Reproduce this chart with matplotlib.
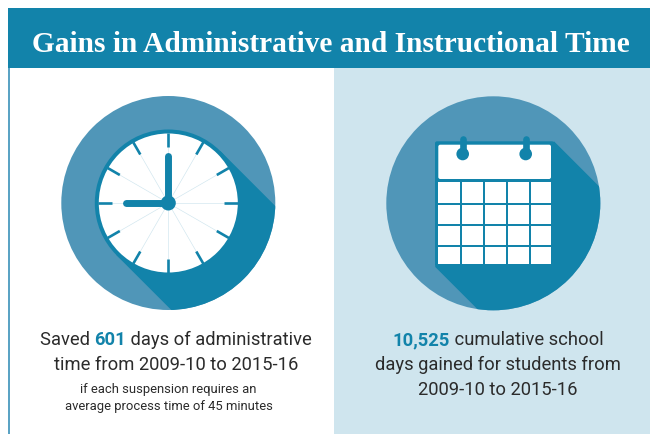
import numpy as np
import matplotlib
matplotlib.use("Agg")
import matplotlib.pyplot as plt
from matplotlib.patches import Circle, Rectangle, Polygon, FancyBboxPatch

TEAL = "#1283aa"
MID = "#5096b8"
PALE = "#cfe5ee"
INK = "#2b2b2b"

title = "Gains in Administrative and Instructional Time"
left_lines = [[("Saved ", False), ("601", True), (" days of administrative", False)],
              [("time from 2009-10 to 2015-16", False)]]
left_note = ["if each suspension requires an", "average process time of 45 minutes"]
right_lines = [[("10,525", True), (" cumulative school", False)],
               [("days gained for students from", False)],
               [("2009-10 to 2015-16", False)]]
clock_hours = list(range(12))
cal_col_edges = [(438.3, 460), (461.7, 483.3), (485.3, 506), (508, 529.3), (531, 551)]
cal_row_edges = [(182.7, 203.7), (205.7, 224.7), (226.7, 245.7), (247.7, 265)]

plt.rcParams["font.family"] = "Roboto"
fig = plt.figure(figsize=(6.5, 4.35), dpi=100)
ax = fig.add_axes([0, 0, 1, 1])
ax.set_xlim(0, 650)
ax.set_ylim(435, 0)
ax.axis("off")

# background panels
ax.add_patch(Rectangle((334, 69), 316, 366, fc=PALE, ec="none"))
ax.add_patch(Rectangle((8, 9), 1.6, 426, fc="#5ba3c4", ec="none"))
ax.add_patch(Rectangle((8, 9), 642, 60, fc=TEAL, ec="none"))
ax.text(331, 52, title, color="white", ha="center", va="baseline",
        family="Liberation Serif", weight="bold", fontsize=21.2)


def badge(cx, cy, p1, p2):
    big = Circle((cx, cy), 107, fc=MID, ec="none")
    ax.add_patch(big)
    # long shadow running down-right, cut off by the big circle
    shadow = Polygon([p1, (p1[0] + 200, p1[1] + 200), (p2[0] + 200, p2[1] + 200), p2],
                     fc=TEAL, ec="none")
    ax.add_patch(shadow)
    shadow.set_clip_path(Circle((cx, cy), 107, transform=ax.transData))


# clock
cx, cy = 168.3, 204
badge(cx, cy, (cx + 52, cy - 52), (cx - 52, cy + 52))
ax.add_patch(Circle((cx, cy), 73.5, fc=TEAL, ec="none"))
ax.add_patch(Circle((cx, cy), 69.5, fc="white", ec="none"))
for h in clock_hours:
    a = np.radians(h * 30)
    dx, dy = np.sin(a), -np.cos(a)
    ax.plot([cx, cx + 56 * dx], [cy, cy + 56 * dy], color="#cfe5ee", lw=0.45)
    ax.plot([cx + 56 * dx, cx + 70 * dx], [cy + 56 * dy, cy + 70 * dy], color=TEAL, lw=1.9,
            solid_capstyle="butt")
ax.plot([cx, cx], [cy, cy - 47], color=TEAL, lw=5, solid_capstyle="round")
ax.plot([cx, cx - 42], [cy, cy], color=TEAL, lw=5, solid_capstyle="round")
ax.add_patch(Circle((cx, cy), 7.5, fc=TEAL, ec="none", zorder=3))

# calendar
cx2, cy2 = 493.3, 204.3
badge(cx2, cy2, (554, 142.3), (435, 267.7))
ax.add_patch(FancyBboxPatch((435, 142.3), 119, 125.4, boxstyle="round,pad=0,rounding_size=2",
                            fc=TEAL, ec="none"))
ax.add_patch(FancyBboxPatch((438.3, 145.7), 112.7, 34.3, boxstyle="round,pad=0,rounding_size=2",
                            fc="white", ec="none"))
for x0, x1 in cal_col_edges:
    for y0, y1 in cal_row_edges:
        ax.add_patch(Rectangle((x0, y0), x1 - x0, y1 - y0, fc="white", ec="none"))
for rx in (462.7, 525.7):
    ax.add_patch(Circle((rx, 155), 6.3, fc=TEAL, ec="none"))
    ax.plot([rx, rx], [155, 140], color=TEAL, lw=4.8, solid_capstyle="round")


def mixed_line(parts, x, y, size):
    # lay the pieces side by side, then shift them so the line is centred on x
    rend = fig.canvas.get_renderer()
    items = []
    for s, strong in parts:
        t = ax.text(0, y, s, color=TEAL if strong else INK, weight="bold" if strong else "normal",
                    fontsize=size, va="baseline", ha="left")
        items.append(t)
    # leading/trailing spaces are measured with a marker pair
    widths = []
    for (s, strong), t in zip(parts, items):
        t.set_text("|" + s + "|")
        w = t.get_window_extent(rend).width
        t.set_text("||")
        w -= t.get_window_extent(rend).width
        t.set_text(s)
        widths.append(w)
    pos = x - sum(widths) / 2
    for t, w in zip(items, widths):
        t.set_x(pos)
        pos += w


for parts, y in zip(left_lines, (345, 370)):
    mixed_line(parts, 176, y, 13.25)
for s, y in zip(left_note, (393, 410)):
    ax.text(168.5, y, s, color=INK, ha="center", va="baseline", fontsize=9.4)
for parts, y in zip(right_lines, (345, 370, 395)):
    mixed_line(parts, 498, y, 13.25)

fig.savefig("out.png", dpi=100)
